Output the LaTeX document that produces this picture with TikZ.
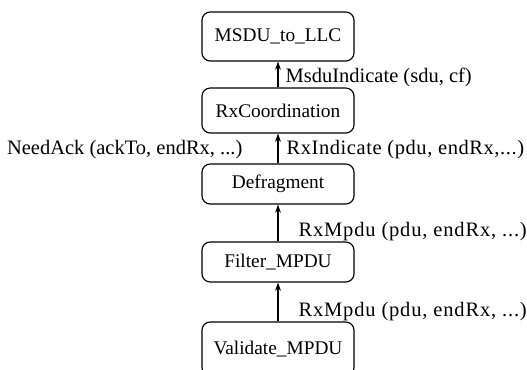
\documentclass[tikz,border=0pt]{standalone}
\usepackage{fontspec}
\setmainfont{Liberation Serif}
\usetikzlibrary{arrows.meta}
\begin{document}
\begin{tikzpicture}[
    block/.style={rectangle,draw,rounded corners=7pt,line width=1pt,minimum width=4.56cm,inner sep=0pt,font=\fontsize{16.5}{19}\selectfont},
    lbl/.style={font=\fontsize{17.5}{20}\selectfont,inner sep=0pt},
    widelbl/.style={lbl,font=\fontsize{17.5}{20}\selectfont\addfontfeature{LetterSpace=#1}},
    >={Stealth[length=7pt,width=5pt]}
    ]

    \useasboundingbox (0,0) rectangle (15.81,-11.07);
    \clip (0,0) rectangle (15.81,-11.07);

    \node (llc) at (8.34, -1.095) [block,minimum height=1.47cm] {MSDU\_to\_LLC};
    \node (coord) at (8.34, -3.315) [block,minimum height=1.35cm] {RxCoordination};
    \node (defrag) at (8.34, -5.52) [block,minimum height=1.2cm] {Defragment};
    \node (filter) at (8.34, -7.86) [block,minimum height=1.2cm] {Filter\_MPDU};
    \node (valid) at (8.34, -10.47) [block,minimum height=1.62cm] {Validate\_MPDU};
    \draw [->,line width=1pt] (coord) to node [lbl,right,pos=0.37,xshift=6pt] {MsduIndicate (sdu, cf)} (llc);
    \draw [->,line width=1pt] (defrag) to node [widelbl=2.8,right,pos=0.45,xshift=0.24cm] {RxIndicate (pdu, endRx,...)}
        node [lbl,left,pos=0.45,xshift=-1.05cm] {NeedAck (ackTo, endRx, ...)} (coord);
    \draw [->,line width=1pt] (filter) to node [widelbl=4,right,pos=0.26,xshift=0.6cm] {RxMpdu (pdu, endRx, ...)} (defrag);
    \draw [->,line width=1pt] (valid) to node [widelbl=4,right,pos=0.25,xshift=0.6cm] {RxMpdu (pdu, endRx, ...)} (filter);

  \end{tikzpicture}
\end{document}
